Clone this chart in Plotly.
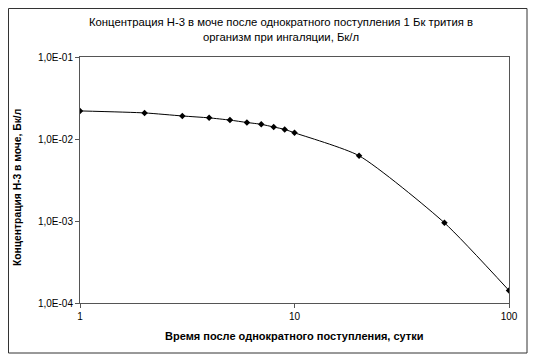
import plotly.graph_objects as go

days = [1, 2, 3, 4, 5, 6, 7, 8, 9, 10, 20, 50, 100]
conc = [0.0220, 0.0208, 0.0191, 0.0181, 0.0170, 0.0159, 0.0151, 0.0140,
        0.0131, 0.0119, 0.00625, 0.00095, 0.000142]

x_tickvals = [1, 10, 100]
x_ticktext = ["1", "10", "100"]
y_tickvals = [1e-4, 1e-3, 1e-2, 1e-1]
y_ticktext = ["1,0E-04", "1,0E-03", "1,0E-02", "1,0E-01"]

title_text = ("Концентрация Н-3 в моче после однократного поступления 1 Бк трития в"
              "<br>организм при ингаляции, Бк/л")
x_title = "Время после однократного поступления, сутки"
y_title = "Концентрация Н-3 в моче, Бк/л"

FONT = "Liberation Sans, Arial, sans-serif"
OFF = 8  # page body margin
W, H = 539 - OFF, 359 - OFF
ML, MR, MT, MB = 80 - OFF, 30, 57 - OFF, 56
PW, PH = W - ML - MR, H - MT - MB


def px_x(x):
    return (x - OFF - ML) / PW


def px_y(y):
    return 1 - (y - OFF - MT) / PH


fig = go.Figure()
fig.add_trace(go.Scatter(
    x=days, y=conc, mode="lines+markers",
    line=dict(color="black", width=1, shape="spline", smoothing=0.6),
    marker=dict(symbol="diamond", size=5, color="black"),
    showlegend=False, hoverinfo="x+y",
))

axis_common = dict(
    showgrid=False, zeroline=False, showline=True, linecolor="#555555",
    linewidth=1, mirror=True, ticks="outside", ticklen=4, tickcolor="#555555",
    tickfont=dict(family=FONT, size=10, color="black"),
)
fig.update_xaxes(type="log", range=[0, 2], tickvals=x_tickvals,
                 ticktext=x_ticktext, **axis_common)
fig.update_yaxes(type="log", range=[-4, -1], tickvals=y_tickvals,
                 ticktext=y_ticktext, **axis_common)

fig.update_layout(
    width=W, height=H,
    margin=dict(l=ML, r=MR, t=MT, b=MB, pad=0),
    paper_bgcolor="white", plot_bgcolor="white",
    font=dict(family=FONT, color="black"),
    shapes=[dict(type="rect", xref="paper", yref="paper",
                 x0=px_x(8.5), x1=px_x(527), y0=px_y(353), y1=px_y(8.5),
                 line=dict(color="#333333", width=1))],
    annotations=[
        dict(text=title_text, xref="paper", yref="paper",
             x=px_x(281), y=px_y(14), xanchor="center", yanchor="top",
             showarrow=False, align="center",
             font=dict(family=FONT, size=11.3, color="black")),
        dict(text="<b>" + x_title + "</b>", xref="paper", yref="paper",
             x=px_x(294), y=px_y(336), xanchor="center", yanchor="middle",
             showarrow=False, font=dict(family=FONT, size=11, color="black")),
        dict(text="<b>" + y_title + "</b>", xref="paper", yref="paper",
             x=px_x(17), y=px_y(188), xanchor="center", yanchor="middle",
             textangle=-90, showarrow=False,
             font=dict(family=FONT, size=10.3, color="black")),
    ],
)

fig.write_html("out.html")
